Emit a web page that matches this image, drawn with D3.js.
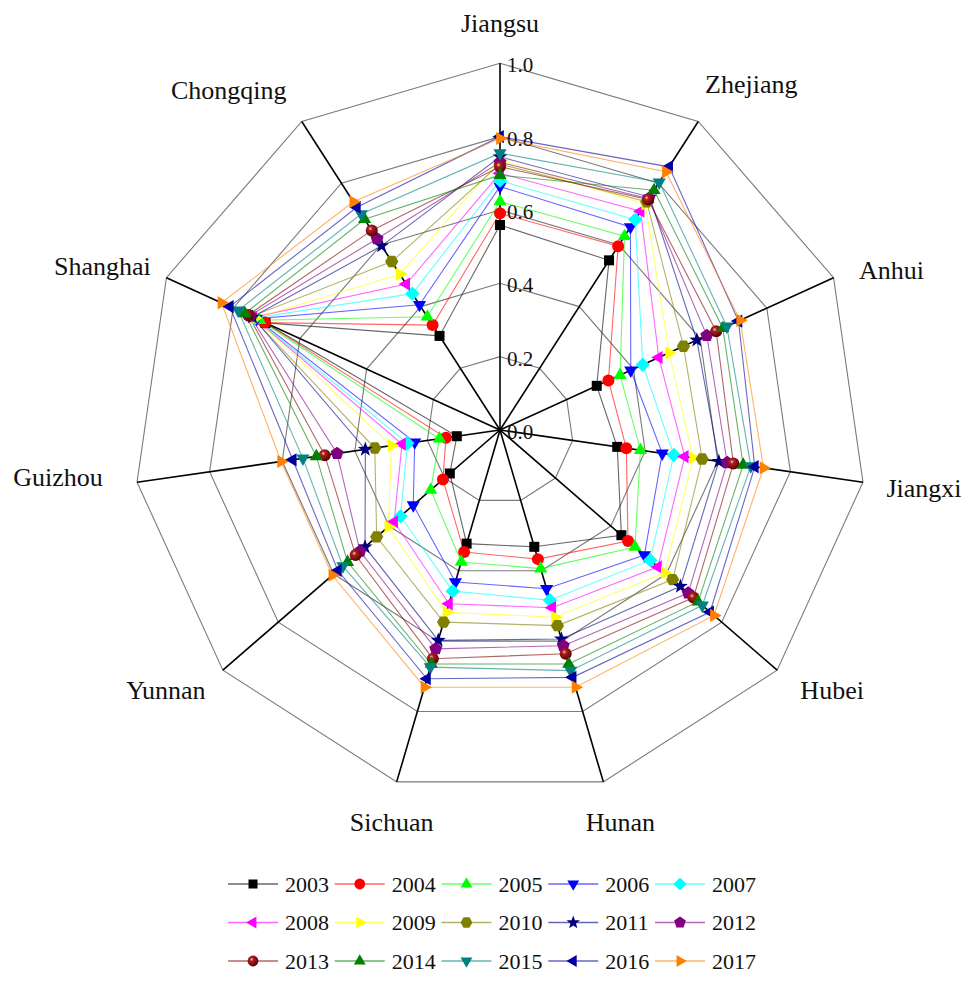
<!DOCTYPE html>
<html>
<head>
<meta charset="utf-8">
<script src="https://cdn.jsdelivr.net/npm/d3@7"></script>
<style>
  html, body { margin: 0; padding: 0; background: #fff; }
  svg text { font-family: "Liberation Serif", "Times New Roman", serif; fill: #111; }
</style>
</head>
<body>
<svg id="chart" width="967" height="982"></svg>
<script>
// Provinces, clockwise from the top
const provinces = ["Jiangsu", "Zhejiang", "Anhui", "Jiangxi", "Hubei", "Hunan",
                   "Sichuan", "Yunnan", "Guizhou", "Shanghai", "Chongqing"];
const years = ["2003", "2004", "2005", "2006", "2007", "2008", "2009", "2010",
               "2011", "2012", "2013", "2014", "2015", "2016", "2017"];
const radialTicks = [0.0, 0.2, 0.4, 0.6, 0.8, 1.0];

// Index values per year, in province order
const v2003 = [0.559, 0.550, 0.290, 0.323, 0.438, 0.332, 0.323, 0.181, 0.119, 0.703, 0.305];
const v2004 = [0.591, 0.596, 0.325, 0.348, 0.462, 0.367, 0.347, 0.206, 0.149, 0.705, 0.340];
const v2005 = [0.623, 0.628, 0.360, 0.387, 0.487, 0.394, 0.375, 0.250, 0.167, 0.720, 0.367];
const v2006 = [0.664, 0.658, 0.392, 0.447, 0.521, 0.451, 0.432, 0.313, 0.235, 0.730, 0.406];
const v2007 = [0.680, 0.682, 0.428, 0.479, 0.542, 0.484, 0.458, 0.359, 0.255, 0.735, 0.442];
const v2008 = [0.700, 0.709, 0.476, 0.509, 0.570, 0.505, 0.494, 0.382, 0.270, 0.740, 0.473];
const v2009 = [0.736, 0.733, 0.507, 0.532, 0.595, 0.532, 0.518, 0.403, 0.299, 0.735, 0.505];
const v2010 = [0.725, 0.740, 0.550, 0.557, 0.623, 0.556, 0.546, 0.445, 0.345, 0.745, 0.546];
const v2011 = [0.745, 0.755, 0.590, 0.603, 0.651, 0.594, 0.598, 0.487, 0.371, 0.742, 0.597];
const v2012 = [0.730, 0.750, 0.620, 0.626, 0.679, 0.613, 0.622, 0.505, 0.449, 0.750, 0.620];
const v2013 = [0.718, 0.747, 0.648, 0.643, 0.698, 0.636, 0.650, 0.521, 0.483, 0.755, 0.647];
const v2014 = [0.695, 0.777, 0.668, 0.670, 0.715, 0.665, 0.665, 0.550, 0.506, 0.765, 0.683];
const v2015 = [0.755, 0.803, 0.680, 0.691, 0.730, 0.684, 0.674, 0.567, 0.543, 0.785, 0.700];
const v2016 = [0.800, 0.853, 0.715, 0.702, 0.758, 0.703, 0.707, 0.585, 0.571, 0.810, 0.722];
const v2017 = [0.795, 0.837, 0.720, 0.726, 0.772, 0.731, 0.731, 0.605, 0.603, 0.835, 0.740];

const seriesValues = [v2003, v2004, v2005, v2006, v2007, v2008, v2009, v2010,
                      v2011, v2012, v2013, v2014, v2015, v2016, v2017];

// Styling for each year: marker colour and symbol kind
const colors = ["#000000", "#ff0000", "#00ff00", "#0000ff", "#00ffff", "#ff00ff", "#ffff00",
                "#808000", "#000080", "#800080", "#800000", "#008000", "#008080", "#0000a0", "#ff8000"];
const shapes = ["square", "circle", "up", "down", "diamond", "left", "right",
                "hexagon", "star", "pentagon", "sphere", "up", "down", "left", "right"];

// Layout
const cx = 500, cy = 430, R = 366.7;
// Label offsets from each axis tip, [dx, dy]
const labelNudge = [[0, -40], [53, -37], [58, -7], [61, 6], [55, 20], [17, 41],
                    [-5, 41], [-57, 20], [-79, -5], [-64, -11], [-73, -31]];

const svg = d3.select("#chart");
svg.append("rect").attr("width", 967).attr("height", 982).attr("fill", "#fff");

const defs = svg.append("defs");
const grad = defs.append("radialGradient").attr("id", "ball")
  .attr("cx", "38%").attr("cy", "35%").attr("r", "65%");
grad.append("stop").attr("offset", "0%").attr("stop-color", "#ffd0d0");
grad.append("stop").attr("offset", "25%").attr("stop-color", "#b02020");
grad.append("stop").attr("offset", "100%").attr("stop-color", "#5a0000");

const r = d3.scaleLinear().domain([0, 1]).range([0, R]);
const angle = d3.scalePoint().domain(provinces)
  .range([0, 2 * Math.PI * (provinces.length - 1) / provinces.length]);

function pt(cat, v) {
  const a = angle(cat);
  return [cx + r(v) * Math.sin(a), cy - r(v) * Math.cos(a)];
}

const g = svg.append("g");

// Grid polygons
const ring = d3.line().curve(d3.curveLinearClosed);
radialTicks.filter(t => t > 0).forEach(t => {
  g.append("path")
    .attr("d", ring(provinces.map(p => pt(p, t))))
    .attr("fill", "none").attr("stroke", "#7a7a7a").attr("stroke-width", 1.1);
});

// Axes
provinces.forEach(p => {
  const [x, y] = pt(p, 1);
  g.append("line").attr("x1", cx).attr("y1", cy).attr("x2", x).attr("y2", y)
    .attr("stroke", "#000").attr("stroke-width", 1.6);
});

// Radial tick labels along the first axis
radialTicks.forEach(t => {
  const [x, y] = pt(provinces[0], t);
  g.append("text").attr("x", x + 7).attr("y", y + 9)
    .attr("font-size", 21).text(t.toFixed(1));
});

// Province labels
provinces.forEach((p, i) => {
  const [x, y] = pt(p, 1);
  g.append("text")
    .attr("x", x + labelNudge[i][0]).attr("y", y + labelNudge[i][1])
    .attr("text-anchor", "middle").attr("dominant-baseline", "central")
    .attr("font-size", 26).text(p);
});

// Marker shapes
function polyPath(n, rad, rot) {
  const pts = d3.range(n).map(k => {
    const a = rot + k * 2 * Math.PI / n;
    return [rad * Math.cos(a), rad * Math.sin(a)];
  });
  return "M" + pts.map(p => p.join(",")).join("L") + "Z";
}
function starPath(ro, ri) {
  const pts = d3.range(10).map(k => {
    const a = -Math.PI / 2 + k * Math.PI / 5;
    const rr = k % 2 === 0 ? ro : ri;
    return [rr * Math.cos(a), rr * Math.sin(a)];
  });
  return "M" + pts.map(p => p.join(",")).join("L") + "Z";
}
function shapePath(kind) {
  switch (kind) {
    case "square": return "M-5,-5H5V5H-5Z";
    case "circle": return d3.symbol(d3.symbolCircle, Math.PI * 36)();
    case "sphere": return d3.symbol(d3.symbolCircle, Math.PI * 36)();
    case "up": return polyPath(3, 7.6, -Math.PI / 2);
    case "down": return polyPath(3, 7.6, Math.PI / 2);
    case "left": return polyPath(3, 7.6, Math.PI);
    case "right": return polyPath(3, 7.6, 0);
    case "diamond": return polyPath(4, 7.2, 0);
    case "hexagon": return polyPath(6, 6.6, 0);
    case "pentagon": return polyPath(5, 6.8, -Math.PI / 2);
    case "star": return starPath(7.8, 3.2);
  }
}
function markerFill(i) {
  return shapes[i] === "sphere" ? "url(#ball)" : colors[i];
}

// Series outlines
const lineGen = d3.line().curve(d3.curveLinearClosed);
seriesValues.forEach((vals, i) => {
  g.append("path")
    .attr("d", lineGen(provinces.map((p, k) => pt(p, vals[k]))))
    .attr("fill", "none").attr("stroke", colors[i])
    .attr("stroke-opacity", 0.6).attr("stroke-width", 1.1);
});

// Series markers
seriesValues.forEach((vals, i) => {
  const d = shapePath(shapes[i]);
  provinces.forEach((p, k) => {
    const [x, y] = pt(p, vals[k]);
    g.append("path").attr("d", d).attr("transform", `translate(${x},${y})`)
      .attr("fill", markerFill(i)).attr("stroke", "none");
  });
});

// Legend: 3 rows of 5
const legX0 = 228, legStep = 106.75, legRow0 = 884, legRowStep = 38.5;
years.forEach((yr, i) => {
  const col = i % 5, row = Math.floor(i / 5);
  const x = legX0 + col * legStep, y = legRow0 + row * legRowStep;
  const item = svg.append("g").attr("transform", `translate(${x},${y})`);
  item.append("line").attr("x1", 0).attr("x2", 50).attr("y1", 0).attr("y2", 0)
    .attr("stroke", colors[i]).attr("stroke-opacity", 0.6).attr("stroke-width", 1.3);
  item.append("path").attr("d", shapePath(shapes[i]))
    .attr("transform", "translate(25,0) scale(0.9)").attr("fill", markerFill(i));
  item.append("text").attr("x", 57).attr("y", 0).attr("dominant-baseline", "central")
    .attr("font-size", 22).text(yr);
});
</script>
</body>
</html>
